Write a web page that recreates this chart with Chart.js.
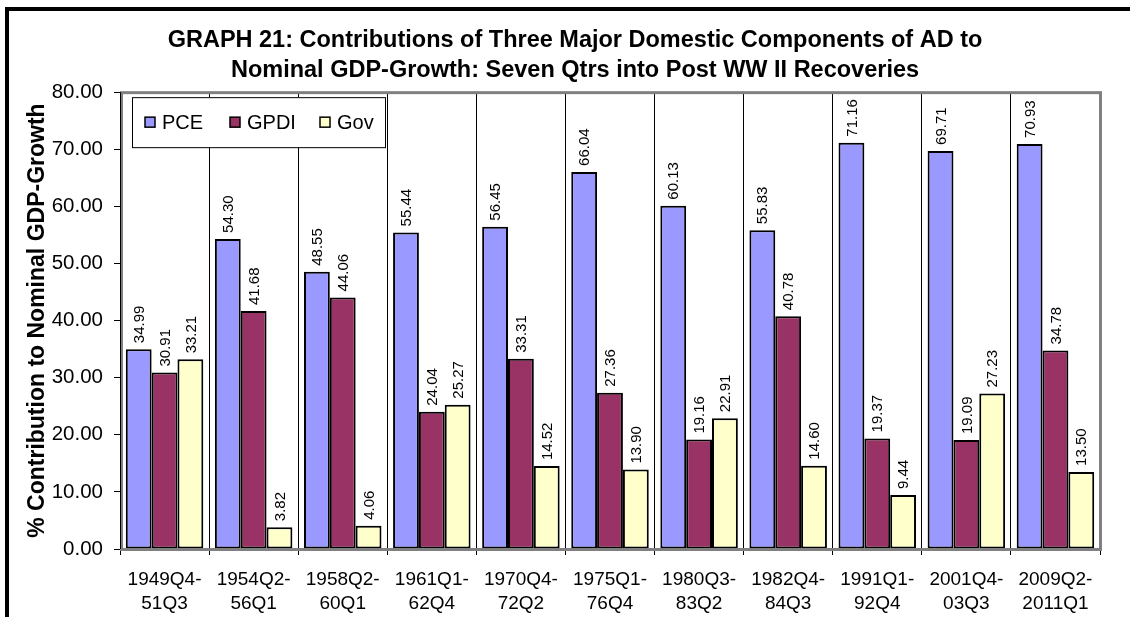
<!DOCTYPE html>
<html>
<head>
<meta charset="utf-8">
<script src="https://cdn.jsdelivr.net/npm/chart.js@4.4.1/dist/chart.umd.min.js"></script>
<style>
  html, body { margin: 0; padding: 0; background: #fff; }
  #wrap { width: 1130px; height: 617px; }
</style>
</head>
<body>
<div id="wrap"><canvas id="chart" width="1130" height="617"></canvas></div>
<script>
var categories = [
  ['1949Q4-', '51Q3'], ['1954Q2-', '56Q1'], ['1958Q2-', '60Q1'], ['1961Q1-', '62Q4'],
  ['1970Q4-', '72Q2'], ['1975Q1-', '76Q4'], ['1980Q3-', '83Q2'], ['1982Q4-', '84Q3'],
  ['1991Q1-', '92Q4'], ['2001Q4-', '03Q3'], ['2009Q2-', '2011Q1']
];
var pce  = [34.99, 54.30, 48.55, 55.44, 56.45, 66.04, 60.13, 55.83, 71.16, 69.71, 70.93];
var gpdi = [30.91, 41.68, 44.06, 24.04, 33.31, 27.36, 19.16, 40.78, 19.37, 19.09, 34.78];
var gov  = [33.21, 3.82, 4.06, 25.27, 14.52, 13.90, 22.91, 14.60, 9.44, 27.23, 13.50];
var seriesNames = ['PCE', 'GPDI', 'Gov'];
var seriesColors = ['#9999FF', '#993366', '#FFFFCC'];

var FONT = 'Arial, "Liberation Sans", sans-serif';

// outer frame (black lines on left and top), and title shifted a bit right
var framePlugin = {
  id: 'frame',
  afterLayout: function(chart) {
    // original chart is wider than the picture, so its title sits right of centre
    if (chart.titleBlock) chart.titleBlock.right = chart.width + 8;
  },
  beforeDraw: function(chart) {
    var ctx = chart.ctx;
    ctx.save();
    ctx.fillStyle = '#fff';
    ctx.fillRect(0, 0, chart.width, chart.height);
    ctx.fillStyle = '#000';
    ctx.fillRect(5, 7, chart.width, 4);
    ctx.fillRect(5, 7, 4, chart.height);
    ctx.restore();
  }
};

// plot area border + value labels + legend box
var extrasPlugin = {
  id: 'extras',
  afterDatasetsDraw: function(chart) {
    var ctx = chart.ctx;
    var a = chart.chartArea;
    ctx.save();
    // value labels, rotated
    ctx.font = '15px ' + FONT;
    ctx.fillStyle = '#000';
    ctx.textAlign = 'left';
    ctx.textBaseline = 'middle';
    chart.data.datasets.forEach(function(ds, i) {
      chart.getDatasetMeta(i).data.forEach(function(bar, j) {
        ctx.save();
        ctx.translate(bar.x + 1, bar.y - 6);
        ctx.rotate(-Math.PI / 2);
        ctx.fillText(ds.data[j].toFixed(2), 0, 0);
        ctx.restore();
      });
    });
    // plot border
    ctx.strokeStyle = '#808080';
    ctx.lineWidth = 3;
    ctx.strokeRect(a.left + 1.5, a.top + 0.5, a.right - a.left - 1, a.bottom - a.top);
    ctx.strokeStyle = '#000';
    ctx.lineWidth = 1;
    ctx.beginPath();
    ctx.moveTo(a.left + 0.5, a.top);
    ctx.lineTo(a.left + 0.5, a.bottom);
    ctx.stroke();
    // legend
    var lx = a.left + 12, ly = a.top + 5, lw = 253, lh = 50;
    ctx.fillStyle = '#fff';
    ctx.fillRect(lx, ly, lw, lh);
    ctx.strokeStyle = '#000';
    ctx.strokeRect(lx + 0.5, ly + 0.5, lw, lh);
    var offs = [13, 98, 188];
    ctx.font = '20px ' + FONT;
    ctx.textBaseline = 'middle';
    chart.data.datasets.forEach(function(ds, i) {
      var sx = lx + offs[i];
      var cy = ly + lh / 2;
      ctx.fillStyle = ds.backgroundColor;
      ctx.fillRect(sx, cy - 5, 10, 10);
      ctx.strokeStyle = '#000';
      ctx.lineWidth = 1.5;
      ctx.strokeRect(sx, cy - 5, 10, 10);
      ctx.fillStyle = '#000';
      ctx.fillText(ds.label, sx + 17, cy + 1);
    });
    ctx.restore();
  }
};

var datasets = [pce, gpdi, gov].map(function(values, i) {
  return {
    label: seriesNames[i],
    data: values,
    backgroundColor: seriesColors[i],
    borderColor: '#000',
    borderWidth: 2,
    borderSkipped: false,
    barPercentage: 1.0,
    categoryPercentage: 0.87
  };
});

new Chart(document.getElementById('chart'), {
  type: 'bar',
  data: { labels: categories, datasets: datasets },
  plugins: [framePlugin, extrasPlugin],
  options: {
    responsive: false,
    animation: false,
    layout: { padding: { left: 12, right: 30, top: 0, bottom: 0 } },
    plugins: {
      legend: { display: false },
      tooltip: { enabled: false },
      title: {
        display: true,
        text: ['GRAPH 21: Contributions of Three Major Domestic Components of AD to',
               'Nominal GDP-Growth: Seven Qtrs into Post WW II Recoveries'],
        color: '#000',
        font: { family: FONT, size: 23.5, weight: 'bold', lineHeight: 1.28 },
        padding: { top: 25, bottom: 7 }
      }
    },
    scales: {
      x: {
        grid: {
          offset: true,
          color: '#000',
          lineWidth: 1,
          tickLength: 6,
          tickColor: '#000'
        },
        border: { display: false },
        ticks: {
          color: '#000',
          maxRotation: 0,
          autoSkip: false,
          padding: 13,
          font: { family: FONT, size: 19, lineHeight: 1.25 }
        },
        afterFit: function(scale) { scale.height = 68; }
      },
      y: {
        min: 0,
        max: 80,
        grid: {
          drawOnChartArea: false,
          tickLength: 6,
          tickColor: '#000',
          color: '#000'
        },
        border: { display: false },
        ticks: {
          stepSize: 10,
          color: '#000',
          padding: 11,
          font: { family: FONT, size: 20.5 },
          callback: function(v) { return v.toFixed(2); }
        },
        title: {
          display: true,
          text: '% Contribution to Nominal GDP-Growth',
          color: '#000',
          font: { family: FONT, size: 23, weight: 'bold' },
          padding: { top: 12, bottom: 0 }
        },
        afterFit: function(scale) { scale.width = 108; }
      }
    }
  }
});
</script>
</body>
</html>
